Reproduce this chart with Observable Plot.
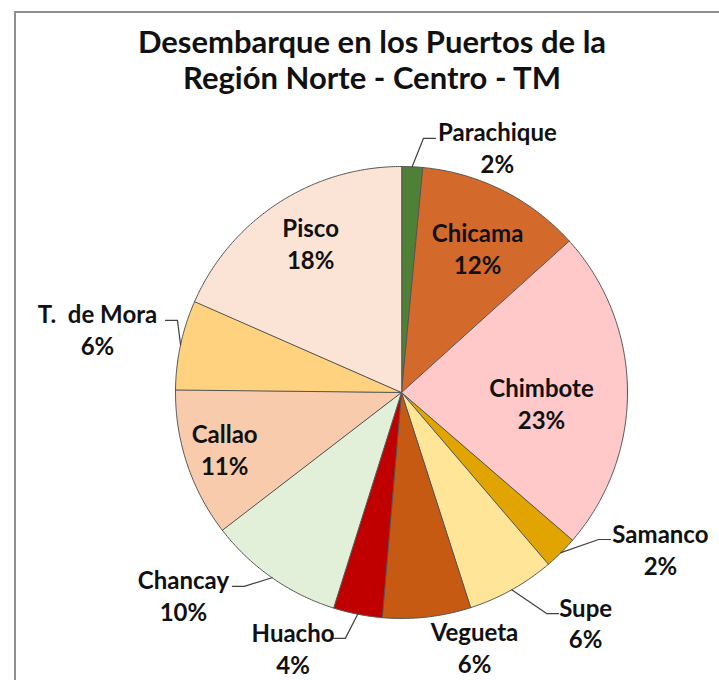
<!DOCTYPE html>
<html><head><meta charset="utf-8">
<script src="https://cdn.jsdelivr.net/npm/d3@7"></script>
<script src="https://cdn.jsdelivr.net/npm/@observablehq/plot@0.6"></script>
<style>
html,body{margin:0;padding:0;background:#fff;overflow:hidden;width:719px;height:680px}
#frame{position:absolute;left:14px;top:11px;width:760px;height:740px;border:2px solid #909090;box-sizing:border-box}
#title{position:absolute;left:14px;top:23px;width:716px;text-align:center;font-family:Lato;font-weight:bold;font-size:31px;line-height:36px;color:#111}
#chart{position:absolute;left:0;top:100px}
</style></head><body>
<div id="frame"></div>
<div id="title">Desembarque en los Puertos de la<br>Región Norte - Centro - TM</div>
<div id="chart"></div>
<script>
// ---- data ----
const ports  = ["Parachique","Chicama","Chimbote","Samanco","Supe","Vegueta","Huacho","Chancay","Callao","T.  de Mora","Pisco"];
const shares = [1.5, 11.8, 23.0, 2.4, 6.3, 6.3, 3.5, 9.7, 10.6, 6.4, 18.4];
const colors = ["#4e8036","#d4692c","#ffc9c9","#e1a400","#ffe597","#c65a12","#c00000","#e2efd9","#f8cbad","#ffd27f","#fbe4d5"];

// ---- label layout (polar: degrees clockwise from top, radius as fraction of pie radius) ----
const labelPolar = [[21.3,1.168],[27.7,0.724],[94.1,0.621],[121.1,1.338],[141.3,1.303],[164.0,1.172],[203.0,1.228],[227.2,1.315],[252.4,0.821],[281.9,1.375],[328.8,0.776]];
const leaderEnd  = [[7.6,1.134],null,null,[125.1,1.131],[144.6,1.2],null,[195.5,1.129],[221.1,1.138],null,[287.0,1.092],null];

const R = 226, CX = 401, CY = 292;
const rad = d => d * Math.PI / 180;
const polar = ([a, r]) => ({x: r * Math.sin(rad(a)), y: r * Math.cos(rad(a))});

const arcs = d3.pie().sort(null).startAngle(0).endAngle(2 * Math.PI)(shares);

const polys = [];
arcs.forEach((a, i) => {
  polys.push({port: ports[i], x: 0, y: 0});
  const n = Math.max(4, Math.ceil((a.endAngle - a.startAngle) / rad(0.5)));
  for (let k = 0; k <= n; k++) {
    const t = a.startAngle + (a.endAngle - a.startAngle) * k / n;
    polys.push({port: ports[i], x: Math.sin(t), y: Math.cos(t)});
  }
});

const labels = ports.map((p, i) => ({
  port: p,
  text: p + "\n" + Math.round(shares[i]) + "%",
  ...polar(labelPolar[i])
}));

const leaders = [];
arcs.forEach((a, i) => {
  if (!leaderEnd[i]) return;
  const mid = (a.startAngle + a.endAngle) / 2;
  const e = polar(leaderEnd[i]);
  const side = e.x >= 0 ? 1 : -1;
  leaders.push({port: ports[i], x: Math.sin(mid), y: Math.cos(mid)});
  leaders.push({port: ports[i], x: e.x - side * 12 / R, y: e.y});
  leaders.push({port: ports[i], x: e.x, y: e.y});
});

const chart = Plot.plot({
  width: 719,
  height: 580,
  axis: null,
  x: {domain: [-1, 1], range: [CX - R, CX + R]},
  y: {domain: [-1, 1], range: [CY + R, CY - R]},
  color: {domain: ports, range: colors},
  style: {background: "transparent", overflow: "visible", fontFamily: "Lato"},
  marks: [
    Plot.line(polys, {x: "x", y: "y", z: "port", fill: "port", stroke: "#555", strokeWidth: 1, curve: "linear-closed"}),
    Plot.line(leaders, {x: "x", y: "y", z: "port", stroke: "#404040", strokeWidth: 1.2}),
    Plot.text(labels, {x: "x", y: "y", text: "text", fontSize: 24, fontWeight: "bold", lineHeight: 1.33, fill: "#111", lineAnchor: "middle", textAnchor: "middle"})
  ]
});
document.getElementById("chart").appendChild(chart);
</script>
</body></html>
